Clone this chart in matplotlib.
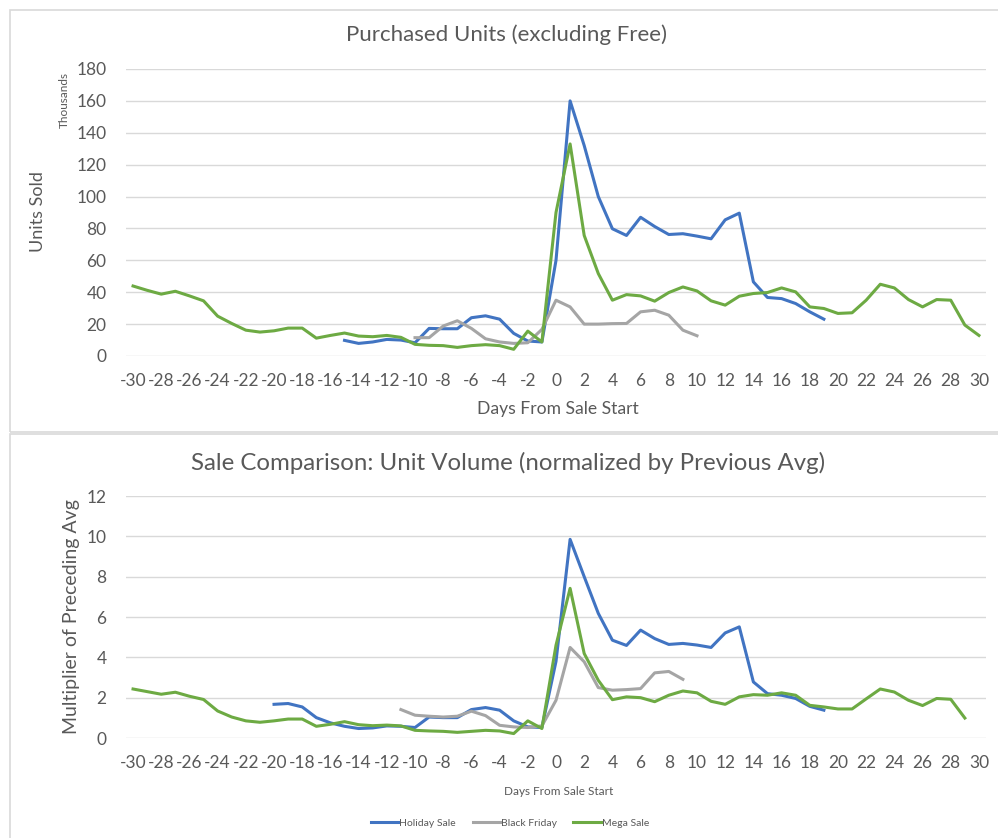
import numpy as np
import matplotlib.pyplot as plt
from matplotlib.patches import Rectangle
from matplotlib.lines import Line2D

plt.rcParams['font.family'] = ['Lato', 'DejaVu Sans']
plt.rcParams['axes.unicode_minus'] = False

# days relative to sale start
days = list(range(-30, 31))
xticks = list(range(-30, 31, 2))

# top chart: purchased units (thousands), each series with its first day
holiday_units_start = -15
holiday_units = [9.8, 7.9, 8.8, 10.4, 10.0, 8.3, 17.3, 17.1, 17.1, 24.0, 25.2, 23.1, 14.2, 9.4, 8.8,
                 60, 160, 132, 100, 79.8, 75.6, 87, 81.2, 76.2, 76.7, 75.2, 73.5, 85.4, 89.6,
                 46.5, 36.7, 36, 32.9, 27.7, 23.1]
black_friday_units_start = -10
black_friday_units = [11.5, 11.5, 18.8, 22.1, 17.3, 10.8, 8.8, 7.9, 8.3, 16.7,
                      35, 30.8, 20, 20, 20.3, 20.4, 27.7, 28.7, 25.6, 16.2, 12.7]
mega_units_start = -30
mega_units = [43.9, 41.2, 38.8, 40.6, 37.7, 34.6, 25, 20.4, 16.2, 15,
              15.8, 17.5, 17.5, 11.2, 12.9, 14.4, 12.5, 12.1, 12.9, 11.7,
              7.3, 6.7, 6.5, 5.4, 6.5, 7.1, 6.5, 4.2, 15.6, 8.8,
              90, 133, 75.6, 51.7, 35, 38.5, 37.7, 34.4, 39.8, 43.3,
              40.8, 34.6, 31.9, 37.5, 39.2, 39.8, 42.7, 40.2, 30.8, 29.8,
              26.7, 27.1, 35, 45, 42.7, 35.4, 30.8, 35.4, 35, 19.4, 12.9]

# bottom chart: multiplier of preceding average
holiday_mult_start = -20
holiday_mult = [1.67, 1.71, 1.54, 1.01, 0.75, 0.58, 0.47, 0.5, 0.6, 0.58,
                0.52, 1.04, 1.01, 1.01, 1.41, 1.51, 1.38, 0.85, 0.55, 0.52,
                3.8, 9.85, 8.0, 6.18, 4.85, 4.59, 5.35, 4.93, 4.64, 4.69,
                4.61, 4.49, 5.21, 5.51, 2.78, 2.2, 2.12, 1.96, 1.57, 1.38]
black_friday_mult_start = -11
black_friday_mult = [1.41, 1.13, 1.08, 1.04, 1.08, 1.33, 1.11, 0.63, 0.55, 0.52, 0.6,
                     1.87, 4.49, 3.78, 2.5, 2.37, 2.4, 2.45, 3.23, 3.3, 2.91]
mega_mult_start = -30
mega_mult = [2.43, 2.30, 2.17, 2.27, 2.07, 1.91, 1.34, 1.04, 0.85, 0.78,
             0.85, 0.94, 0.94, 0.58, 0.68, 0.81, 0.66, 0.61, 0.64, 0.6,
             0.38, 0.35, 0.33, 0.28, 0.33, 0.38, 0.35, 0.22, 0.85, 0.47,
             4.6, 7.42, 4.19, 2.86, 1.9, 2.04, 2.0, 1.8, 2.12, 2.33,
             2.24, 1.82, 1.67, 2.04, 2.15, 2.12, 2.24, 2.12, 1.62, 1.54,
             1.44, 1.44, 1.94, 2.43, 2.28, 1.87, 1.61, 1.96, 1.92, 0.99]

series_names = ["Holiday Sale", "Black Friday", "Mega Sale"]
colors = ["#4174C2", "#A5A5A5", "#6DAA43"]
text_color = "#595959"
grid_color = "#D9D9D9"

W, H = 998, 838
fig = plt.figure(figsize=(W / 100, H / 100), dpi=100)


def px_axes(left, top, right, bottom):
    return fig.add_axes([left / W, 1 - bottom / H, (right - left) / W, (bottom - top) / H])


def style(ax, ymax, ystep, fs):
    ax.set_xlim(-30.5, 30.5)
    ax.set_ylim(0, ymax)
    ax.set_xticks(xticks)
    ax.set_yticks(np.arange(0, ymax + 0.01, ystep))
    for s in ax.spines.values():
        s.set_visible(False)
    ax.grid(axis="y", color=grid_color, linewidth=1)
    ax.set_axisbelow(True)
    ax.tick_params(length=0, colors=text_color, labelsize=fs)
    ax.tick_params(axis="y", pad=14)
    ax.tick_params(axis="x", pad=12)


def plot_series(ax, start, vals, color):
    x = list(range(start, start + len(vals)))
    ax.plot(x, vals, color=color, linewidth=2.2, solid_joinstyle="round")


# chart borders
fig.add_artist(Rectangle((10 / W, 1 - 432 / H), 1.2, 422 / H, transform=fig.transFigure,
                         facecolor="none", edgecolor=grid_color, linewidth=1.2))
fig.add_artist(Rectangle((10 / W, 1 - 900 / H), 1.2, 466 / H, transform=fig.transFigure,
                         facecolor="none", edgecolor=grid_color, linewidth=1.2))

# top chart
ax1 = px_axes(126, 69, 986, 356)
style(ax1, 180, 20, 12.5)
plot_series(ax1, holiday_units_start, holiday_units, colors[0])
plot_series(ax1, black_friday_units_start, black_friday_units, colors[1])
plot_series(ax1, mega_units_start, mega_units, colors[2])
fig.text(507 / W, 1 - 35 / H, "Purchased Units (excluding Free)", ha="center", va="center",
         fontsize=16, color=text_color)
fig.text(558 / W, 1 - 409 / H, "Days From Sale Start", ha="center", va="center",
         fontsize=12.6, color=text_color)
fig.text(38 / W, 1 - 212 / H, "Units Sold", ha="center", va="center", rotation=90,
         fontsize=13, color=text_color)
fig.text(64 / W, 1 - 100 / H, "Thousands", ha="center", va="center", rotation=90,
         fontsize=8.5, color=text_color)

# bottom chart
ax2 = px_axes(126, 496, 986, 738)
style(ax2, 12, 2, 12.5)
plot_series(ax2, holiday_mult_start, holiday_mult, colors[0])
plot_series(ax2, black_friday_mult_start, black_friday_mult, colors[1])
plot_series(ax2, mega_mult_start, mega_mult, colors[2])
fig.text(508 / W, 1 - 463 / H, "Sale Comparison: Unit Volume (normalized by Previous Avg)",
         ha="center", va="center", fontsize=17.3, color=text_color)
fig.text(559 / W, 1 - 791 / H, "Days From Sale Start", ha="center", va="center",
         fontsize=8.5, color=text_color)
fig.text(72 / W, 1 - 617 / H, "Multiplier of Preceding Avg", ha="center", va="center",
         rotation=90, fontsize=14, color=text_color)

handles = [Line2D([], [], color=c, linewidth=2.2) for c in colors]
fig.legend(handles, series_names, loc="center", bbox_to_anchor=(510 / W, 1 - 823 / H),
           ncol=3, frameon=False, fontsize=7.5, labelcolor=text_color,
           handlelength=2.6, handletextpad=0.1, columnspacing=1.6)

fig.savefig("out.png", dpi=100)
